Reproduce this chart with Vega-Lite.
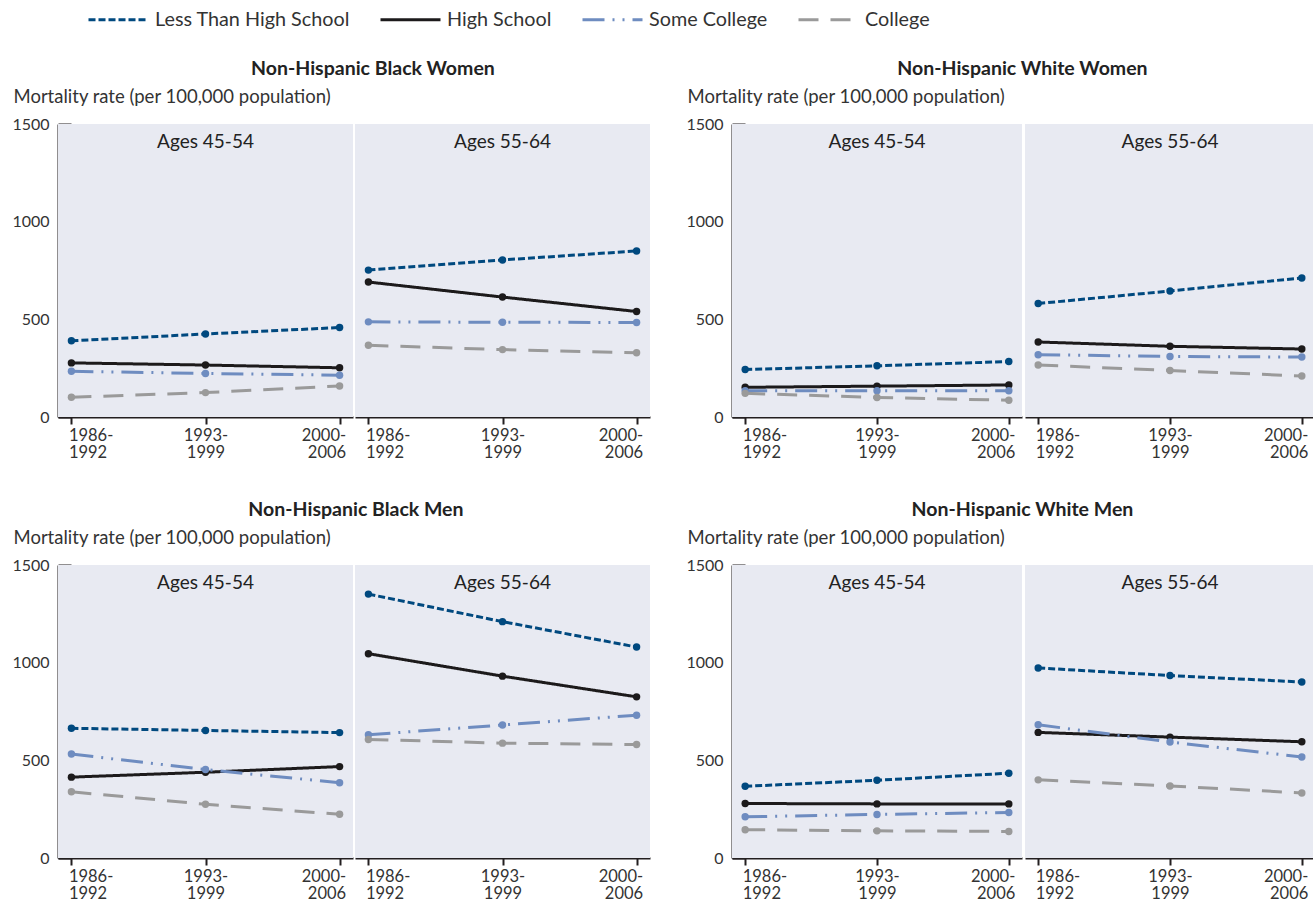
{
  "$schema": "https://vega.github.io/schema/vega-lite/v6.json",
  "padding": {"left": 11, "top": 8, "right": 0, "bottom": 0},
  "background": "white",
  "config": {
    "font": "Lato",
    "view": {"fill": "#e8eaf2", "stroke": null},
    "axis": {
      "grid": false,
      "domainColor": "#231f20",
      "domainWidth": 2,
      "tickColor": "#231f20",
      "tickWidth": 2,
      "labelColor": "#333333",
      "labelFontSize": 16,
      "titleColor": "#333333",
      "titleFontWeight": "normal",
      "titleFontSize": 18.5
    },
    "axisX": {
      "title": null,
      "labelAngle": 0,
      "labelExpr": "[slice(datum.label, 0, 5), slice(datum.label, 5)]",
      "tickSize": 7,
      "labelPadding": 3,
      "labelLineHeight": 17,
      "labelFontSize": 16.5
    },
    "title": {"fontSize": 19.5, "fontWeight": "bold", "color": "#222222", "anchor": "middle", "offset": 8},
    "legend": {"labelFontSize": 19.8, "labelColor": "#333333", "labelLimit": 400, "symbolStrokeWidth": 3, "symbolSize": 400, "columnPadding": 24, "labelOffset": 25}
  },
  "data": {
    "values": [
      {"group": "Black Women", "age": "Ages 45-54", "period": "1986-1992", "edu": "Less Than High School", "rate": 390},
      {"group": "Black Women", "age": "Ages 45-54", "period": "1993-1999", "edu": "Less Than High School", "rate": 425},
      {"group": "Black Women", "age": "Ages 45-54", "period": "2000-2006", "edu": "Less Than High School", "rate": 458},
      {"group": "Black Women", "age": "Ages 45-54", "period": "1986-1992", "edu": "High School", "rate": 277},
      {"group": "Black Women", "age": "Ages 45-54", "period": "1993-1999", "edu": "High School", "rate": 266},
      {"group": "Black Women", "age": "Ages 45-54", "period": "2000-2006", "edu": "High School", "rate": 252},
      {"group": "Black Women", "age": "Ages 45-54", "period": "1986-1992", "edu": "Some College", "rate": 234},
      {"group": "Black Women", "age": "Ages 45-54", "period": "1993-1999", "edu": "Some College", "rate": 223},
      {"group": "Black Women", "age": "Ages 45-54", "period": "2000-2006", "edu": "Some College", "rate": 214},
      {"group": "Black Women", "age": "Ages 45-54", "period": "1986-1992", "edu": "College", "rate": 101},
      {"group": "Black Women", "age": "Ages 45-54", "period": "1993-1999", "edu": "College", "rate": 125},
      {"group": "Black Women", "age": "Ages 45-54", "period": "2000-2006", "edu": "College", "rate": 159},
      {"group": "Black Women", "age": "Ages 55-64", "period": "1986-1992", "edu": "Less Than High School", "rate": 752},
      {"group": "Black Women", "age": "Ages 55-64", "period": "1993-1999", "edu": "Less Than High School", "rate": 804},
      {"group": "Black Women", "age": "Ages 55-64", "period": "2000-2006", "edu": "Less Than High School", "rate": 850},
      {"group": "Black Women", "age": "Ages 55-64", "period": "1986-1992", "edu": "High School", "rate": 691},
      {"group": "Black Women", "age": "Ages 55-64", "period": "1993-1999", "edu": "High School", "rate": 614},
      {"group": "Black Women", "age": "Ages 55-64", "period": "2000-2006", "edu": "High School", "rate": 540},
      {"group": "Black Women", "age": "Ages 55-64", "period": "1986-1992", "edu": "Some College", "rate": 487},
      {"group": "Black Women", "age": "Ages 55-64", "period": "1993-1999", "edu": "Some College", "rate": 485},
      {"group": "Black Women", "age": "Ages 55-64", "period": "2000-2006", "edu": "Some College", "rate": 484},
      {"group": "Black Women", "age": "Ages 55-64", "period": "1986-1992", "edu": "College", "rate": 367},
      {"group": "Black Women", "age": "Ages 55-64", "period": "1993-1999", "edu": "College", "rate": 345},
      {"group": "Black Women", "age": "Ages 55-64", "period": "2000-2006", "edu": "College", "rate": 329},
      {"group": "White Women", "age": "Ages 45-54", "period": "1986-1992", "edu": "Less Than High School", "rate": 243},
      {"group": "White Women", "age": "Ages 45-54", "period": "1993-1999", "edu": "Less Than High School", "rate": 262},
      {"group": "White Women", "age": "Ages 45-54", "period": "2000-2006", "edu": "Less Than High School", "rate": 284},
      {"group": "White Women", "age": "Ages 45-54", "period": "1986-1992", "edu": "High School", "rate": 152},
      {"group": "White Women", "age": "Ages 45-54", "period": "1993-1999", "edu": "High School", "rate": 158},
      {"group": "White Women", "age": "Ages 45-54", "period": "2000-2006", "edu": "High School", "rate": 164},
      {"group": "White Women", "age": "Ages 45-54", "period": "1986-1992", "edu": "Some College", "rate": 134},
      {"group": "White Women", "age": "Ages 45-54", "period": "1993-1999", "edu": "Some College", "rate": 134},
      {"group": "White Women", "age": "Ages 45-54", "period": "2000-2006", "edu": "Some College", "rate": 134},
      {"group": "White Women", "age": "Ages 45-54", "period": "1986-1992", "edu": "College", "rate": 121},
      {"group": "White Women", "age": "Ages 45-54", "period": "1993-1999", "edu": "College", "rate": 100},
      {"group": "White Women", "age": "Ages 45-54", "period": "2000-2006", "edu": "College", "rate": 86},
      {"group": "White Women", "age": "Ages 55-64", "period": "1986-1992", "edu": "Less Than High School", "rate": 581},
      {"group": "White Women", "age": "Ages 55-64", "period": "1993-1999", "edu": "Less Than High School", "rate": 645},
      {"group": "White Women", "age": "Ages 55-64", "period": "2000-2006", "edu": "Less Than High School", "rate": 712},
      {"group": "White Women", "age": "Ages 55-64", "period": "1986-1992", "edu": "High School", "rate": 384},
      {"group": "White Women", "age": "Ages 55-64", "period": "1993-1999", "edu": "High School", "rate": 362},
      {"group": "White Women", "age": "Ages 55-64", "period": "2000-2006", "edu": "High School", "rate": 348},
      {"group": "White Women", "age": "Ages 55-64", "period": "1986-1992", "edu": "Some College", "rate": 319},
      {"group": "White Women", "age": "Ages 55-64", "period": "1993-1999", "edu": "Some College", "rate": 310},
      {"group": "White Women", "age": "Ages 55-64", "period": "2000-2006", "edu": "Some College", "rate": 307},
      {"group": "White Women", "age": "Ages 55-64", "period": "1986-1992", "edu": "College", "rate": 266},
      {"group": "White Women", "age": "Ages 55-64", "period": "1993-1999", "edu": "College", "rate": 238},
      {"group": "White Women", "age": "Ages 55-64", "period": "2000-2006", "edu": "College", "rate": 210},
      {"group": "Black Men", "age": "Ages 45-54", "period": "1986-1992", "edu": "Less Than High School", "rate": 664},
      {"group": "Black Men", "age": "Ages 45-54", "period": "1993-1999", "edu": "Less Than High School", "rate": 653},
      {"group": "Black Men", "age": "Ages 45-54", "period": "2000-2006", "edu": "Less Than High School", "rate": 642},
      {"group": "Black Men", "age": "Ages 45-54", "period": "1986-1992", "edu": "High School", "rate": 414},
      {"group": "Black Men", "age": "Ages 45-54", "period": "1993-1999", "edu": "High School", "rate": 439},
      {"group": "Black Men", "age": "Ages 45-54", "period": "2000-2006", "edu": "High School", "rate": 468},
      {"group": "Black Men", "age": "Ages 45-54", "period": "1986-1992", "edu": "Some College", "rate": 532},
      {"group": "Black Men", "age": "Ages 45-54", "period": "1993-1999", "edu": "Some College", "rate": 453},
      {"group": "Black Men", "age": "Ages 45-54", "period": "2000-2006", "edu": "Some College", "rate": 385},
      {"group": "Black Men", "age": "Ages 45-54", "period": "1986-1992", "edu": "College", "rate": 339},
      {"group": "Black Men", "age": "Ages 45-54", "period": "1993-1999", "edu": "College", "rate": 275},
      {"group": "Black Men", "age": "Ages 45-54", "period": "2000-2006", "edu": "College", "rate": 224},
      {"group": "Black Men", "age": "Ages 55-64", "period": "1986-1992", "edu": "Less Than High School", "rate": 1351},
      {"group": "Black Men", "age": "Ages 55-64", "period": "1993-1999", "edu": "Less Than High School", "rate": 1210},
      {"group": "Black Men", "age": "Ages 55-64", "period": "2000-2006", "edu": "Less Than High School", "rate": 1080},
      {"group": "Black Men", "age": "Ages 55-64", "period": "1986-1992", "edu": "High School", "rate": 1046},
      {"group": "Black Men", "age": "Ages 55-64", "period": "1993-1999", "edu": "High School", "rate": 931},
      {"group": "Black Men", "age": "Ages 55-64", "period": "2000-2006", "edu": "High School", "rate": 825},
      {"group": "Black Men", "age": "Ages 55-64", "period": "1986-1992", "edu": "Some College", "rate": 631},
      {"group": "Black Men", "age": "Ages 55-64", "period": "1993-1999", "edu": "Some College", "rate": 681},
      {"group": "Black Men", "age": "Ages 55-64", "period": "2000-2006", "edu": "Some College", "rate": 731},
      {"group": "Black Men", "age": "Ages 55-64", "period": "1986-1992", "edu": "College", "rate": 607},
      {"group": "Black Men", "age": "Ages 55-64", "period": "1993-1999", "edu": "College", "rate": 588},
      {"group": "Black Men", "age": "Ages 55-64", "period": "2000-2006", "edu": "College", "rate": 581},
      {"group": "White Men", "age": "Ages 45-54", "period": "1986-1992", "edu": "Less Than High School", "rate": 367},
      {"group": "White Men", "age": "Ages 45-54", "period": "1993-1999", "edu": "Less Than High School", "rate": 398},
      {"group": "White Men", "age": "Ages 45-54", "period": "2000-2006", "edu": "Less Than High School", "rate": 434},
      {"group": "White Men", "age": "Ages 45-54", "period": "1986-1992", "edu": "High School", "rate": 279},
      {"group": "White Men", "age": "Ages 45-54", "period": "1993-1999", "edu": "High School", "rate": 277},
      {"group": "White Men", "age": "Ages 45-54", "period": "2000-2006", "edu": "High School", "rate": 277},
      {"group": "White Men", "age": "Ages 45-54", "period": "1986-1992", "edu": "Some College", "rate": 211},
      {"group": "White Men", "age": "Ages 45-54", "period": "1993-1999", "edu": "Some College", "rate": 223},
      {"group": "White Men", "age": "Ages 45-54", "period": "2000-2006", "edu": "Some College", "rate": 233},
      {"group": "White Men", "age": "Ages 45-54", "period": "1986-1992", "edu": "College", "rate": 145},
      {"group": "White Men", "age": "Ages 45-54", "period": "1993-1999", "edu": "College", "rate": 139},
      {"group": "White Men", "age": "Ages 45-54", "period": "2000-2006", "edu": "College", "rate": 136},
      {"group": "White Men", "age": "Ages 55-64", "period": "1986-1992", "edu": "Less Than High School", "rate": 973},
      {"group": "White Men", "age": "Ages 55-64", "period": "1993-1999", "edu": "Less Than High School", "rate": 934},
      {"group": "White Men", "age": "Ages 55-64", "period": "2000-2006", "edu": "Less Than High School", "rate": 901},
      {"group": "White Men", "age": "Ages 55-64", "period": "1986-1992", "edu": "High School", "rate": 643},
      {"group": "White Men", "age": "Ages 55-64", "period": "1993-1999", "edu": "High School", "rate": 619},
      {"group": "White Men", "age": "Ages 55-64", "period": "2000-2006", "edu": "High School", "rate": 595},
      {"group": "White Men", "age": "Ages 55-64", "period": "1986-1992", "edu": "Some College", "rate": 682},
      {"group": "White Men", "age": "Ages 55-64", "period": "1993-1999", "edu": "Some College", "rate": 594},
      {"group": "White Men", "age": "Ages 55-64", "period": "2000-2006", "edu": "Some College", "rate": 517},
      {"group": "White Men", "age": "Ages 55-64", "period": "1986-1992", "edu": "College", "rate": 400},
      {"group": "White Men", "age": "Ages 55-64", "period": "1993-1999", "edu": "College", "rate": 369},
      {"group": "White Men", "age": "Ages 55-64", "period": "2000-2006", "edu": "College", "rate": 333}
    ]
  },
  "spacing": 38,
  "vconcat": [
    {
      "spacing": 35,
      "hconcat": [
        {
          "transform": [{"filter": "datum.group === 'Black Women'"}],
          "title": {"text": "Non-Hispanic Black Women", "dx": 42},
          "facet": {"column": {"field": "age", "type": "nominal", "header": {"labels": false, "title": null}}},
          "spacing": 2,
          "spec": {
            "width": 295,
            "height": 293,
            "layer": [
              {
                "mark": {"type": "line", "strokeWidth": 3},
                "encoding": {
                  "x": {"field": "period", "type": "ordinal", "scale": {"type": "point", "padding": 0.1}, "axis": {"labelAlign": {"condition": [{"test": "datum.value === '1986-1992'", "value": "left"}, {"test": "datum.value === '2000-2006'", "value": "right"}], "value": "center"}, "labelOffset": {"condition": [{"test": "datum.value === '1986-1992'", "value": -3}, {"test": "datum.value === '2000-2006'", "value": 6}], "value": 0}}},
                  "y": {"field": "rate", "type": "quantitative", "scale": {"domain": [0, 1500], "nice": false}, "axis": {"title": "Mortality rate (per 100,000 population)", "values": [0, 500, 1000, 1500], "format": "d", "tickSize": -13, "labelPadding": 22, "titleAngle": 0, "titleAlign": "left", "titleBaseline": "middle", "titleX": -45, "titleY": -28}},
                  "color": {"field": "edu", "type": "nominal", "scale": {"domain": ["Less Than High School", "High School", "Some College", "College"], "range": ["#00497f", "#1c1a1b", "#6e8cc0", "#9a9a9a"]}, "legend": {"title": null, "orient": "none", "legendX": 49, "legendY": -116, "direction": "horizontal", "symbolType": "M-3,0H3"}},
                  "strokeDash": {"field": "edu", "type": "nominal", "scale": {"domain": ["Less Than High School", "High School", "Some College", "College"], "range": [[7, 3], [1, 0], [22, 8, 2, 8, 2, 8], [20, 12]]}, "legend": {"title": null, "orient": "none", "legendX": 49, "legendY": -116, "direction": "horizontal", "symbolType": "M-3,0H3"}}
                }
              },
              {
                "mark": {"type": "point", "filled": true, "size": 55, "opacity": 1},
                "encoding": {
                  "x": {"field": "period", "type": "ordinal"},
                  "y": {"field": "rate", "type": "quantitative"},
                  "color": {"field": "edu", "type": "nominal", "legend": {"title": null, "symbolType": "M-3,0H3"}}
                }
              },
              {
                "transform": [{"aggregate": [{"op": "count", "as": "n"}], "groupby": ["age"]}],
                "mark": {"type": "text", "fontSize": 19, "color": "#222222", "baseline": "middle"},
                "encoding": {
                  "x": {"datum": "1993-1999", "type": "ordinal"},
                  "y": {"datum": 1408, "type": "quantitative"},
                  "text": {"field": "age"}
                }
              }
            ]
          }
        },
        {
          "transform": [{"filter": "datum.group === 'White Women'"}],
          "title": {"text": "Non-Hispanic White Women", "dx": 22},
          "facet": {"column": {"field": "age", "type": "nominal", "header": {"labels": false, "title": null}}},
          "spacing": 3,
          "spec": {
            "width": 290,
            "height": 293,
            "layer": [
              {
                "mark": {"type": "line", "strokeWidth": 3},
                "encoding": {
                  "x": {"field": "period", "type": "ordinal", "scale": {"type": "point", "padding": 0.1}, "axis": {"labelAlign": {"condition": [{"test": "datum.value === '1986-1992'", "value": "left"}, {"test": "datum.value === '2000-2006'", "value": "right"}], "value": "center"}, "labelOffset": {"condition": [{"test": "datum.value === '1986-1992'", "value": -3}, {"test": "datum.value === '2000-2006'", "value": 6}], "value": 0}}},
                  "y": {"field": "rate", "type": "quantitative", "scale": {"domain": [0, 1500], "nice": false}, "axis": {"title": "Mortality rate (per 100,000 population)", "values": [0, 500, 1000, 1500], "format": "d", "tickSize": -13, "labelPadding": 22, "titleAngle": 0, "titleAlign": "left", "titleBaseline": "middle", "titleX": -45, "titleY": -28}},
                  "color": {"field": "edu", "type": "nominal", "legend": {"title": null, "symbolType": "M-3,0H3"}},
                  "strokeDash": {"field": "edu", "type": "nominal", "legend": {"title": null, "symbolType": "M-3,0H3"}}
                }
              },
              {
                "mark": {"type": "point", "filled": true, "size": 55, "opacity": 1},
                "encoding": {
                  "x": {"field": "period", "type": "ordinal"},
                  "y": {"field": "rate", "type": "quantitative"},
                  "color": {"field": "edu", "type": "nominal", "legend": {"title": null, "symbolType": "M-3,0H3"}}
                }
              },
              {
                "transform": [{"aggregate": [{"op": "count", "as": "n"}], "groupby": ["age"]}],
                "mark": {"type": "text", "fontSize": 19, "color": "#222222", "baseline": "middle"},
                "encoding": {
                  "x": {"datum": "1993-1999", "type": "ordinal"},
                  "y": {"datum": 1408, "type": "quantitative"},
                  "text": {"field": "age"}
                }
              }
            ]
          }
        }
      ]
    },
    {
      "spacing": 35,
      "hconcat": [
        {
          "transform": [{"filter": "datum.group === 'Black Men'"}],
          "title": {"text": "Non-Hispanic Black Men", "dx": 25},
          "facet": {"column": {"field": "age", "type": "nominal", "header": {"labels": false, "title": null}}},
          "spacing": 2,
          "spec": {
            "width": 295,
            "height": 293,
            "layer": [
              {
                "mark": {"type": "line", "strokeWidth": 3},
                "encoding": {
                  "x": {"field": "period", "type": "ordinal", "scale": {"type": "point", "padding": 0.1}, "axis": {"labelAlign": {"condition": [{"test": "datum.value === '1986-1992'", "value": "left"}, {"test": "datum.value === '2000-2006'", "value": "right"}], "value": "center"}, "labelOffset": {"condition": [{"test": "datum.value === '1986-1992'", "value": -3}, {"test": "datum.value === '2000-2006'", "value": 6}], "value": 0}}},
                  "y": {"field": "rate", "type": "quantitative", "scale": {"domain": [0, 1500], "nice": false}, "axis": {"title": "Mortality rate (per 100,000 population)", "values": [0, 500, 1000, 1500], "format": "d", "tickSize": -13, "labelPadding": 22, "titleAngle": 0, "titleAlign": "left", "titleBaseline": "middle", "titleX": -45, "titleY": -28}},
                  "color": {"field": "edu", "type": "nominal", "legend": {"title": null, "symbolType": "M-3,0H3"}},
                  "strokeDash": {"field": "edu", "type": "nominal", "legend": {"title": null, "symbolType": "M-3,0H3"}}
                }
              },
              {
                "mark": {"type": "point", "filled": true, "size": 55, "opacity": 1},
                "encoding": {
                  "x": {"field": "period", "type": "ordinal"},
                  "y": {"field": "rate", "type": "quantitative"},
                  "color": {"field": "edu", "type": "nominal", "legend": {"title": null, "symbolType": "M-3,0H3"}}
                }
              },
              {
                "transform": [{"aggregate": [{"op": "count", "as": "n"}], "groupby": ["age"]}],
                "mark": {"type": "text", "fontSize": 19, "color": "#222222", "baseline": "middle"},
                "encoding": {
                  "x": {"datum": "1993-1999", "type": "ordinal"},
                  "y": {"datum": 1408, "type": "quantitative"},
                  "text": {"field": "age"}
                }
              }
            ]
          }
        },
        {
          "transform": [{"filter": "datum.group === 'White Men'"}],
          "title": {"text": "Non-Hispanic White Men", "dx": 22},
          "facet": {"column": {"field": "age", "type": "nominal", "header": {"labels": false, "title": null}}},
          "spacing": 3,
          "spec": {
            "width": 290,
            "height": 293,
            "layer": [
              {
                "mark": {"type": "line", "strokeWidth": 3},
                "encoding": {
                  "x": {"field": "period", "type": "ordinal", "scale": {"type": "point", "padding": 0.1}, "axis": {"labelAlign": {"condition": [{"test": "datum.value === '1986-1992'", "value": "left"}, {"test": "datum.value === '2000-2006'", "value": "right"}], "value": "center"}, "labelOffset": {"condition": [{"test": "datum.value === '1986-1992'", "value": -3}, {"test": "datum.value === '2000-2006'", "value": 6}], "value": 0}}},
                  "y": {"field": "rate", "type": "quantitative", "scale": {"domain": [0, 1500], "nice": false}, "axis": {"title": "Mortality rate (per 100,000 population)", "values": [0, 500, 1000, 1500], "format": "d", "tickSize": -13, "labelPadding": 22, "titleAngle": 0, "titleAlign": "left", "titleBaseline": "middle", "titleX": -45, "titleY": -28}},
                  "color": {"field": "edu", "type": "nominal", "legend": {"title": null, "symbolType": "M-3,0H3"}},
                  "strokeDash": {"field": "edu", "type": "nominal", "legend": {"title": null, "symbolType": "M-3,0H3"}}
                }
              },
              {
                "mark": {"type": "point", "filled": true, "size": 55, "opacity": 1},
                "encoding": {
                  "x": {"field": "period", "type": "ordinal"},
                  "y": {"field": "rate", "type": "quantitative"},
                  "color": {"field": "edu", "type": "nominal", "legend": {"title": null, "symbolType": "M-3,0H3"}}
                }
              },
              {
                "transform": [{"aggregate": [{"op": "count", "as": "n"}], "groupby": ["age"]}],
                "mark": {"type": "text", "fontSize": 19, "color": "#222222", "baseline": "middle"},
                "encoding": {
                  "x": {"datum": "1993-1999", "type": "ordinal"},
                  "y": {"datum": 1408, "type": "quantitative"},
                  "text": {"field": "age"}
                }
              }
            ]
          }
        }
      ]
    }
  ]
}
